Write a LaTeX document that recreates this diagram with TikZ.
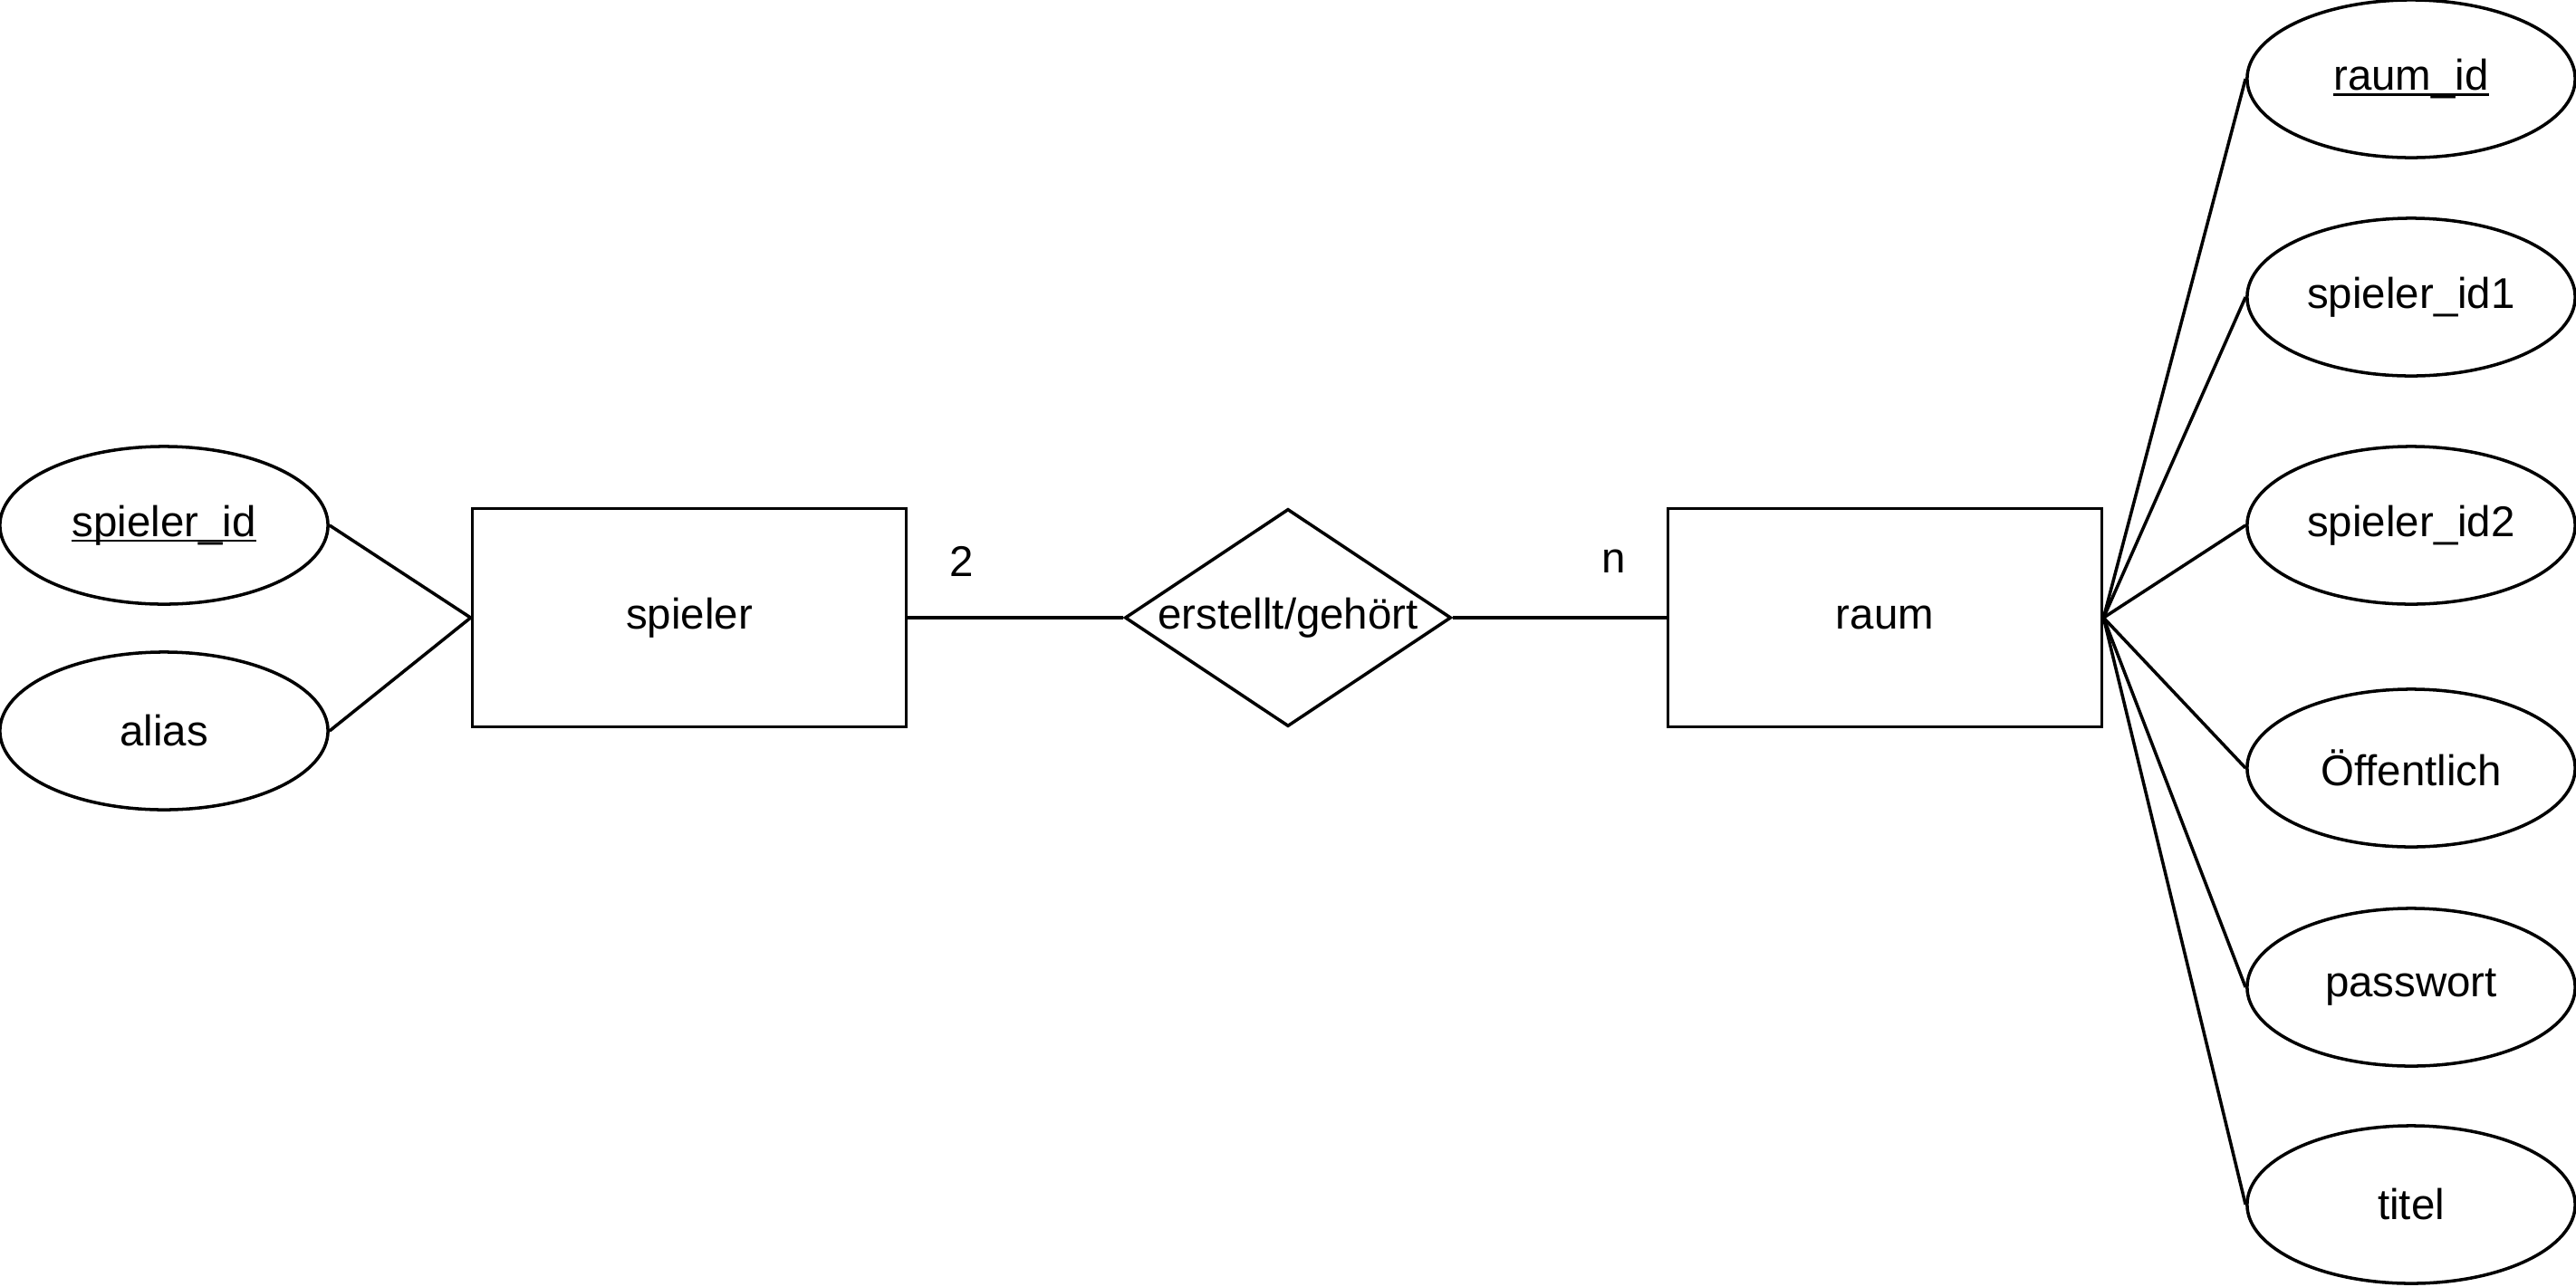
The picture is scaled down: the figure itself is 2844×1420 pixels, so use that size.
\documentclass[tikz,border=0pt]{standalone}
\usepackage{fontspec}
\setmainfont{Liberation Sans}
\usetikzlibrary{shapes.geometric}

% underlined key attribute
\newcommand{\pkey}[1]{\setbox0\hbox{#1}\rlap{\rule[-0.13em]{\wd0}{0.06em}}\box0}

\begin{document}
\begin{tikzpicture}[x=0.01cm,y=-0.01cm,line width=1pt,
  font=\fontsize{13.5}{16}\selectfont,
  entity/.style={rectangle,draw,minimum width=4.79cm,minimum height=2.41cm,inner sep=0pt},
  attr/.style={ellipse,draw,minimum width=3.62cm,minimum height=1.74cm,inner sep=0pt},
  rel/.style={diamond,draw,aspect=1.5,minimum width=3.6cm,minimum height=2.4cm,inner sep=0pt}]

  \useasboundingbox (0,0) rectangle (2844,1420);

  \node[attr] (spielerid) at (181,580) {\pkey{spieler\_id}};
  \node[attr] (alias) at (181,807) {alias};
  \node[entity] (spieler) at (761,682) {spieler};
  \node[rel] (erstellt) at (1422,682) {erstellt/gehört};
  \node[entity] (raum) at (2081,682) {raum};

  \node[attr] (raumid) at (2662,87) {\pkey{raum\_id}};
  \node[attr] (sid1) at (2662,328) {spieler\_id1};
  \node[attr] (sid2) at (2662,580) {spieler\_id2};
  \node[attr] (oeffentlich) at (2662,848) {Öffentlich};
  \node[attr] (passwort) at (2662,1090) {passwort};
  \node[attr] (titel) at (2662,1330) {titel};

  \node (c2) at (1062,620) {2};
  \node (cn) at (1782,620) {n};

  \path (spielerid.east) edge (spieler.west)
        (alias.east) edge (spieler.west)
        (spieler.east) edge (erstellt.west)
        (erstellt.east) edge (raum.west);

  \path (raum.east) edge (raumid.west)
        (raum.east) edge (sid1.west)
        (raum.east) edge (sid2.west)
        (raum.east) edge (oeffentlich.west)
        (raum.east) edge (passwort.west)
        (raum.east) edge (titel.west);

\end{tikzpicture}
\end{document}
